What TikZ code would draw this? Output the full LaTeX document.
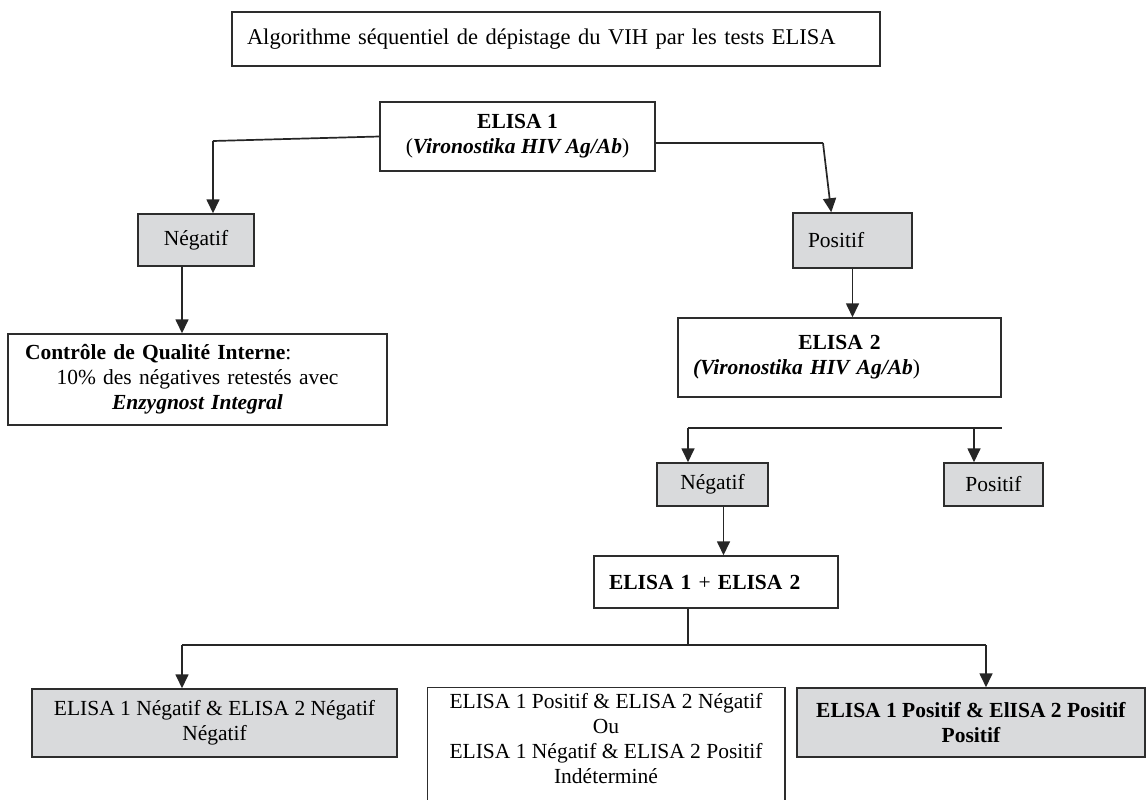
\documentclass[tikz,border=0pt]{standalone}
\usepackage{fontspec}
\setmainfont{Liberation Serif}
\usetikzlibrary{arrows.meta, calc}
\definecolor{boxgray}{RGB}{217,218,220}
\definecolor{inkgray}{RGB}{45,45,45}
\tikzset{
  block/.style  = {draw=inkgray, line width=1.5pt, rectangle, align=center,
                   fill=white, font=\fontsize{21.5}{25}\selectfont,
                   inner xsep=15pt, inner ysep=4pt},
  gblock/.style = {block, fill=boxgray},
  arr/.style    = {-{Triangle[length=14pt, width=13pt]}, line width=1.7pt, draw=black!85},
  wire/.style   = {line width=1.7pt, draw=black!85}
}

\begin{document}
\begin{tikzpicture}[x=1pt, y=-1pt]
  \useasboundingbox (0,0) rectangle (1148,800);

  % ── Title ─────────────────────────────────────────────────────────────────
  \node[block, text width=618pt, align=left, minimum height=54pt,
        font=\fontsize{22.5}{26}\selectfont] (title) at (556,39)
        {Algorithme séquentiel de dépistage du VIH par les tests ELISA};

  % ── First test ────────────────────────────────────────────────────────────
  \node[block, minimum width=275pt, minimum height=69pt] (elisa1) at (517.5,136.5)
        {\textbf{ELISA 1}\\(\textbf{\textit{Vironostika HIV Ag/Ab}})};
  \node[gblock, minimum width=116pt, minimum height=52pt, inner xsep=5pt] (neg1) at (196,240) {Négatif};
  \node[gblock, minimum width=119pt, minimum height=55pt,
        text width=89pt, align=left] (pos1) at (852.5,240.5) {Positif};
  \node[block, text width=345pt, inner xsep=17pt, align=left, minimum height=91pt] (cqi) at (197.5,379.5)
        {\textbf{Contrôle de Qualité Interne}:\par
         \centering 10\% des négatives retestés avec\par
         \textbf{\textit{Enzygnost Integral}}\par};

  % ── Second test ───────────────────────────────────────────────────────────
  \node[block, text width=293pt, align=left, minimum height=79pt] (elisa2) at (839.5,357.5)
        {\centering\textbf{ELISA 2}\par
         \raggedright\textbf{\textit{(Vironostika HIV Ag/Ab}})};
  \node[gblock, minimum width=111pt, minimum height=43pt, inner xsep=5pt] (neg2) at (712.5,484.5) {Négatif};
  \node[gblock, minimum width=99pt, minimum height=43pt, inner xsep=5pt]  (pos2) at (993.5,484.5) {Positif};
  \node[block, text width=214pt, align=left, minimum height=52pt] (elisa12) at (716,582)
        {\textbf{ELISA 1} + \textbf{ELISA 2}};

  % ── Results (bottom row) ──────────────────────────────────────────────────
  \node[gblock, minimum width=365pt, minimum height=68pt] (resneg) at (214.5,723)
        {ELISA 1 Négatif \& ELISA 2 Négatif\\Négatif};
  \node[block, draw=none, fill=none, minimum width=356pt, minimum height=101pt] (resind) at (606,738.5)
        {ELISA 1 Positif \& ELISA 2 Négatif\\Ou\\ELISA 1 Négatif \& ELISA 2 Positif\\Indéterminé};
  % open at the bottom: runs off the page
  \draw[draw=inkgray, line width=1.5pt] ([yshift=-20pt]resind.south west) -- (resind.north west)
        -- (resind.north east) -- ([yshift=-20pt]resind.south east);
  \node[gblock, minimum width=348pt, minimum height=69pt] (respos) at (971,722.5)
        {\textbf{ELISA 1 Positif \& ElISA 2 Positif}\\\textbf{Positif}};

  % ── Connections ───────────────────────────────────────────────────────────

  % ELISA 1 → Négatif / Positif
  \coordinate (e1l) at (213,141);
  \coordinate (e1r) at (823,143);
  \draw[wire] (elisa1.west) -- (e1l);
  \draw[arr]  (e1l) -- (e1l |- neg1.north);
  \draw[wire] ([yshift=-6.5pt]elisa1.east) -- (e1r);
  \draw[arr]  (e1r) -- ($(pos1.north west)+(39,0)$);

  % Négatif → contrôle, Positif → ELISA 2
  \coordinate (n1out) at ([xshift=-14pt]neg1.south);
  \draw[arr] (n1out) -- (n1out |- cqi.north);
  \draw[arr] (pos1.south) -- (pos1.south |- elisa2.north);

  % ELISA 2 bracket
  \coordinate (b2l) at (688,428);
  \coordinate (b2r) at (elisa2.east |- b2l);
  \coordinate (b2p) at (974,428);
  \draw[wire] (b2l) -- (b2r);
  \draw[arr]  (b2l) -- (b2l |- neg2.north);
  \draw[arr]  (b2p) -- (b2p |- pos2.north);

  % Négatif → ELISA 1 + ELISA 2
  \coordinate (n2out) at ([xshift=11pt]neg2.south);
  \draw[arr] (n2out) -- (n2out |- elisa12.north);

  % ELISA 1 + ELISA 2 → results
  \coordinate (e12out) at ([xshift=-28pt]elisa12.south);
  \coordinate (b3l) at (182,645);
  \coordinate (b3r) at (986,645);
  \draw[wire] (e12out) -- (e12out |- b3l);
  \draw[wire] (b3l) -- (b3r);
  \draw[arr]  (b3l) -- (b3l |- resneg.north);
  \draw[arr]  (b3r) -- (b3r |- respos.north);

\end{tikzpicture}
\end{document}
